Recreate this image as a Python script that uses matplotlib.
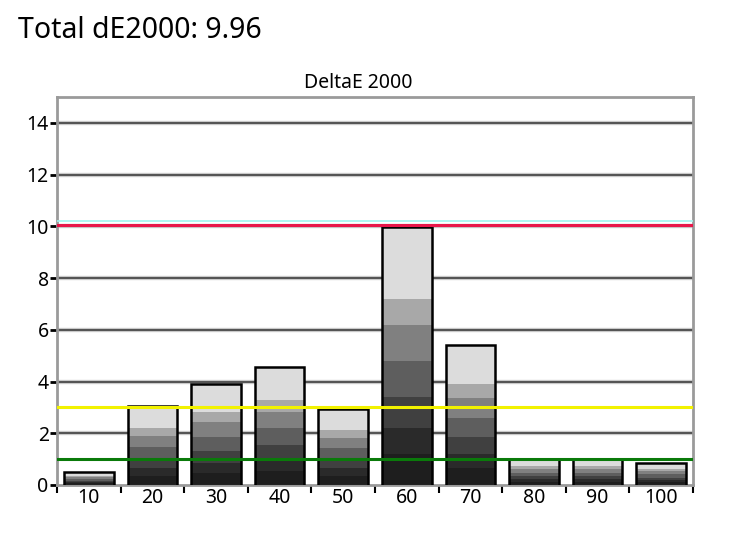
import numpy as np
import matplotlib.pyplot as plt

plt.rcParams['font.family'] = ['Noto Sans', 'DejaVu Sans']

# data
levels = ['10', '20', '30', '40', '50', '60', '70', '80', '90', '100']
delta_e = [0.5, 3.05, 3.9, 4.55, 2.95, 9.96, 5.4, 1.0, 1.0, 0.85]
total_de = 9.96

# reference lines (value, colour, width)
ref_lines = [(10.2, '#9ff5f0', 1.2), (10.05, '#e8174a', 2.2), (3.0, '#f2f200', 2.2), (1.0, '#0a7a0a', 2.2)]

# gray bands inside each bar, bottom to top (fraction of bar height, shade)
band_frac = [0.12, 0.10, 0.12, 0.14, 0.14, 0.10, 0.28]
band_gray = ['#1e1e1e', '#2a2a2a', '#404040', '#5e5e5e', '#808080', '#a8a8a8', '#dcdcdc']

fig = plt.figure(figsize=(7.48, 5.33), dpi=100)
ax = fig.add_axes([0.0762, 0.0901, 0.8503, 0.728])

x = np.arange(len(levels))
width = 0.78

# gridlines
for yv in range(2, 15, 2):
    ax.axhline(yv, color='#d8d8d8', lw=3.2, zorder=0)
    ax.axhline(yv, color='#555555', lw=1.6, zorder=0.5)

# stacked gray bands
bottoms = np.zeros(len(levels))
for frac, shade in zip(band_frac, band_gray):
    h = np.array(delta_e) * frac
    ax.bar(x, h, width, bottom=bottoms, color=shade, edgecolor='none', zorder=2)
    bottoms += h
# outline
ax.bar(x, delta_e, width, facecolor='none', edgecolor='black', linewidth=1.8, zorder=3)

for val, col, lw in ref_lines:
    ax.axhline(val, color=col, lw=lw, zorder=4)

ax.set_xlim(-0.5, len(levels) - 0.5)
ax.set_ylim(0, 15)
ax.set_yticks(range(0, 15, 2))
ax.set_yticklabels([str(v) for v in range(0, 15, 2)], fontsize=14)

ax.set_xticks(x)
ax.set_xticklabels(levels, fontsize=14)
ax.tick_params(axis='x', length=0, pad=2)
ax.set_xticks(np.arange(-0.5, len(levels), 1), minor=True)
ax.tick_params(axis='x', which='minor', length=6, width=1.5, color='black')
ax.tick_params(axis='y', length=5, width=2, color='black', pad=1)

for side in ['left', 'right', 'top', 'bottom']:
    ax.spines[side].set_color('#9a9a9a')
    ax.spines[side].set_linewidth(2)

ax.text(0.474, 1.01, 'DeltaE 2000', transform=ax.transAxes, fontsize=14,
        ha='center', va='bottom')
fig.text(0.024, 0.942, f'Total dE2000: {total_de}', fontsize=20.5, ha='left', va='center')

fig.savefig('out.png', dpi=100)
